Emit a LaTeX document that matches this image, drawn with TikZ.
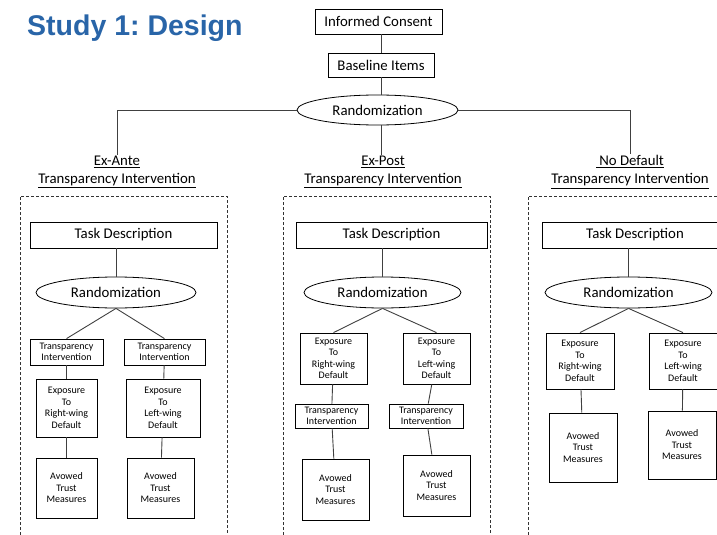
\documentclass[tikz,border=0pt]{standalone}
\usepackage{fontspec}
\setmainfont{Carlito}
\newfontfamily\titlefont{Liberation Sans}
\usetikzlibrary{shapes.geometric}
\definecolor{titleblue}{RGB}{41,101,168}
\frenchspacing

\tikzset{
  box/.style={draw, rectangle, line width=0.8pt, inner sep=1pt, align=center},
  small/.style={font=\fontsize{10}{11.5}\selectfont},
  big/.style={font=\fontsize{14.8}{17}\selectfont},
  rnd/.style={draw, ellipse, line width=0.8pt, inner sep=1pt, minimum height=31, big},
  link/.style={draw=black!75, line width=0.9pt},
  arm/.style={align=center, inner sep=1pt, font=\fontsize{14.8}{18}\selectfont},
  panel/.style={draw=black!80, line width=0.8pt, dash pattern=on 3pt off 2pt}
}

\begin{document}
\begin{tikzpicture}[x=1pt,y=-1pt]
    \clip (0,0) rectangle (717,535);
    \node[anchor=base west, inner sep=0, text=titleblue, font=\titlefont\bfseries\fontsize{28.5}{30}\selectfont] (title) at (27,36) {Study 1: Design};

    % top part
    \node[box, big, minimum width=127, minimum height=25] (consent) at (378.5,21.5) {Informed Consent};
    \node[box, big, minimum width=106, minimum height=24] (baseline) at (381,65) {Baseline Items};
    \node[rnd, minimum width=161, minimum height=30] (rand) at (377.5,110) {Randomization};
    \draw[link] (baseline.north) -- (baseline.north |- consent.south);
    \draw[link] (baseline.south) -- (baseline.south |- rand.north);

    % three arms
    \node[arm] (armA) at (117,172) {\underline{Ex-Ante}\\\underline{Transparency Intervention}};
    \node[arm] (armB) at (383,172) {\underline{Ex-Post}\\\underline{Transparency Intervention}};
    \node[arm] (armC) at (630,172) {\underline{\ No Default}\\\underline{Transparency Intervention}};
    \draw[link] (rand.west) -| (armA.north);
    \draw[link] (baseline.south |- rand.south) -- (baseline.south |- armB.north);
    \draw[link] (rand.east) -| (armC.north);

    \draw[panel] (20,540) |- (227,196) -- (227,540);
    \draw[panel] (283,540) |- (490,196) -- (490,540);
    \draw[panel] (528,540) |- (720,196);

    \foreach \n/\x/\w/\rx/\rw in {A/123.5/187/116/160, B/391.5/191/382.5/157, C/635/186/628.5/167} {
      \node[box, big, minimum width=\w, minimum height=26] (task\n) at (\x,235) {Task Description};
      \node[rnd, minimum width=\rw] (rand\n) at (\rx,292.5) {Randomization};
      \draw[link] (rand\n.north) -- (rand\n.north |- task\n.south);
    }

    % ex-ante: intervention first
    \node[box, small, minimum width=73, minimum height=26] (tiA1) at (66.5,352) {Transparency\\Intervention};
    \node[box, small, minimum width=81, minimum height=26] (tiA2) at (164.5,352) {Transparency\\Intervention};
    \node[box, small, minimum width=61, minimum height=58] (expA1) at (66.5,408) {Exposure\\To\\Right-wing\\Default};
    \node[box, small, minimum width=74, minimum height=58] (expA2) at (163,408) {Exposure\\To\\Left-wing\\Default};
    \node[box, small, minimum width=61, minimum height=60] (avA1) at (66.5,488) {Avowed\\Trust\\Measures};
    \node[box, small, minimum width=67, minimum height=60] (avA2) at (160.5,488) {Avowed\\Trust\\Measures};
    \draw[link] (randA.south) -- (tiA1.north);
    \draw[link] (randA.south) -- (tiA2.north);
    \draw[link] (tiA1) -- (expA1);
    \draw[link] (tiA2) -- (expA2);
    \draw[link] (expA1) -- (avA1);
    \draw[link] (expA2) -- (avA2);

    % ex-post: exposure first
    \node[box, small, minimum width=67, minimum height=51] (expB1) at (333.5,358.5) {Exposure\\To\\Right-wing\\Default};
    \node[box, small, minimum width=67, minimum height=51] (expB2) at (436.5,358.5) {Exposure\\To\\Left-wing\\Default};
    \node[box, small, minimum width=73, minimum height=24] (tiB1) at (331.5,416) {Transparency\\Intervention};
    \node[box, small, minimum width=74, minimum height=24] (tiB2) at (426,416) {Transparency\\Intervention};
    \node[box, small, minimum width=67, minimum height=61] (avB1) at (335.5,489.5) {Avowed\\Trust\\Measures};
    \node[box, small, minimum width=67, minimum height=61] (avB2) at (436.5,485.5) {Avowed\\Trust\\Measures};
    \draw[link] (randB.south) -- (expB1.north);
    \draw[link] (randB.south) -- (expB2.north);
    \draw[link] (expB1) -- (tiB1);
    \draw[link] (expB2) -- (tiB2);
    \draw[link] (tiB1) -- (avB1);
    \draw[link] (tiB2) -- (avB2);

    % no default
    \node[box, small, minimum width=68, minimum height=56] (expC1) at (580,361) {Exposure\\To\\Right-wing\\Default};
    \node[box, small, minimum width=68, minimum height=56] (expC2) at (683,361) {Exposure\\To\\Left-wing\\Default};
    \node[box, small, minimum width=68, minimum height=69] (avC1) at (583,447.5) {Avowed\\Trust\\Measures};
    \node[box, small, minimum width=68, minimum height=68] (avC2) at (682,445) {Avowed\\Trust\\Measures};
    \draw[link] (randC.south) -- (expC1.north);
    \draw[link] (randC.south) -- (expC2.north);
    \draw[link] (expC1) -- (avC1);
    \draw[link] (expC2) -- (avC2);
\end{tikzpicture}
\end{document}
